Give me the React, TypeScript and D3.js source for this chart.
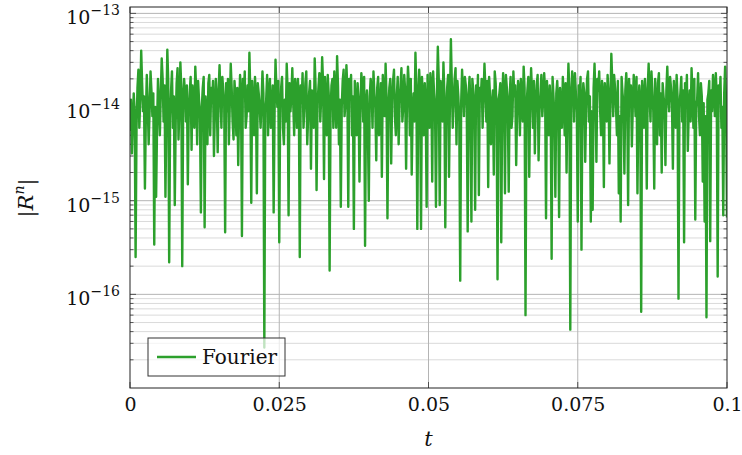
import React, { useEffect, useRef } from "react";
import { axisBottom, line, scaleLinear, scaleLog, select } from "d3";

// residual |R^n|, in units of 1e-15, evenly spaced in t on [0, 0.1]
const residualE15 = [
  5.5, 12, 3.2, 7, 14, 9, 0.25, 6, 16, 25, 6, 12, 40, 18, 9, 13, 1.35, 8, 22, 11,
  4, 9, 24, 15, 8, 14, 0.34, 10, 1.1, 6, 20, 11, 5, 14, 33, 20, 7, 17, 1.1, 9,
  41, 19, 0.22, 8, 15, 24, 6, 13, 0.9, 7, 18, 26, 4.5, 10, 30, 16, 0.2, 11, 20, 14,
  7, 17, 1.5, 9, 14, 21, 3.5, 17, 10, 6, 27, 15, 4, 19, 12, 8, 0.75, 10, 16, 21,
  0.52, 13, 8, 4, 18, 22, 5, 16, 11, 19, 3, 9, 20, 12, 3.3, 15, 28, 13, 6, 21,
  15, 11, 0.46, 18, 9, 20, 4, 11, 29, 16, 7, 4.5, 19, 13, 5, 16, 2.4, 10, 22, 13,
  0.42, 20, 13, 24, 6, 8, 17, 9, 38, 14, 0.95, 19, 10, 5, 21, 12, 1.2, 18, 14, 10,
  6, 11, 24, 14, 0.027, 9, 12, 22, 5, 14, 20, 6, 8, 17, 0.75, 9, 32, 15, 10, 19,
  0.36, 10, 16, 21, 6, 4, 12, 7, 29, 15, 0.7, 18, 9, 13, 26, 11, 5, 20, 15, 6,
  20, 12, 0.25, 17, 11, 23, 6, 10, 18, 24, 4, 8, 14, 19, 2.2, 15, 9, 6, 33, 16,
  1.3, 11, 16, 23, 7, 13, 34, 18, 1.7, 21, 12, 5, 22, 14, 0.18, 9, 17, 20, 6, 24,
  13, 6, 35, 17, 4, 12, 0.86, 10, 19, 25, 8, 11, 28, 16, 0.86, 20, 14, 22, 5, 13,
  0.5, 19, 10, 5, 18, 12, 1.6, 9, 23, 17, 7, 21, 0.33, 11, 15, 6, 1.0, 13, 20, 15,
  6, 24, 14, 10, 2.7, 16, 21, 5, 9, 18, 1.8, 22, 12, 8, 29, 13, 0.65, 9, 16, 20,
  2.5, 12, 19, 25, 8, 5, 13, 21, 4, 11, 17, 26, 7, 10, 22, 15, 2.2, 13, 27, 17,
  5, 20, 1.9, 9, 14, 7, 38, 16, 0.5, 12, 25, 15, 0.5, 21, 12, 5, 18, 11, 0.86, 22,
  9, 6, 23, 17, 1.6, 24, 14, 10, 0.86, 13, 44, 20, 0.9, 19, 11, 7, 30, 14, 0.52, 9,
  16, 22, 1.8, 12, 53, 18, 6, 11, 20, 26, 4, 19, 13, 7, 0.14, 11, 25, 14, 8, 21,
  17, 10, 0.47, 14, 21, 9, 0.6, 20, 15, 11, 0.8, 17, 9, 22, 1.15, 16, 12, 20, 6, 13,
  29, 16, 7, 19, 1.4, 21, 13, 4, 10, 15, 1.9, 24, 18, 9, 0.145, 12, 14, 18, 0.36, 11,
  23, 14, 1.2, 22, 16, 10, 1.25, 13, 21, 6, 8, 24, 13, 17, 2.4, 9, 19, 15, 5, 20,
  12, 7, 27, 16, 0.06, 10, 15, 21, 1.8, 12, 26, 14, 6, 19, 3.2, 11, 17, 22, 2.7, 9,
  14, 22, 8, 12, 23, 15, 0.65, 19, 11, 5, 17, 10, 0.24, 21, 13, 8, 1.1, 14, 19, 11,
  0.67, 16, 9, 6, 21, 13, 5, 18, 2.0, 11, 29, 15, 0.042, 12, 24, 17, 7, 23, 14, 9,
  0.6, 17, 12, 21, 0.3, 11, 18, 14, 2.6, 10, 20, 24, 7, 13, 0.6, 9, 0.8, 16, 29, 12,
  2.6, 20, 15, 24, 9, 5, 19, 13, 1.4, 18, 12, 7, 22, 14, 2.5, 11, 37, 19, 8, 22,
  16, 10, 5, 19, 1.2, 8, 0.6, 21, 14, 11, 1.95, 15, 23, 13, 0.9, 20, 11, 17, 3.8, 10,
  22, 14, 8, 21, 1.2, 10, 17, 12, 0.065, 19, 13, 6, 20, 11, 1.35, 16, 29, 13, 7, 24,
  15, 9, 1.35, 20, 10, 4, 18, 23, 5, 14, 2.0, 18, 13, 10, 2.4, 15, 27, 12, 9, 21,
  16, 11, 2.2, 19, 12, 6, 22, 13, 0.09, 10, 14, 21, 7, 15, 0.36, 18, 11, 22, 3.4, 9,
  15, 7, 26, 14, 6, 20, 0.63, 10, 12, 23, 8, 5, 18, 13, 1.6, 11, 0.6, 8, 0.057, 12,
  14, 19, 0.37, 15, 9, 22, 16, 8, 23, 13, 0.155, 17, 11, 21, 6, 10, 0.7, 14, 27, 11,
  0.66,
];

const tMax = 0.1;
const xTicks = [0, 0.025, 0.05, 0.075, 0.1];
const xTickLabels = ["0", "0.025", "0.05", "0.075", "0.1"];
const yDecades = [-17, -16, -15, -14, -13];
const yTickExponents = ["−16", "−15", "−14", "−13"];
const seriesName = "Fourier";

export default function App() {
  const ref = useRef<SVGSVGElement>(null);

  const width = 742;
  const height = 455;
  const margin = { top: 7, right: 15, bottom: 67, left: 130 };
  const font = "'DejaVu Serif', 'Liberation Serif', 'Noto Serif', serif";

  useEffect(() => {
    const svg = select(ref.current);
    svg.selectAll("*").remove();

    const x = scaleLinear()
      .domain([0, tMax])
      .range([margin.left, width - margin.right]);
    const y = scaleLog()
      .domain([1e-17, 1.17e-13])
      .range([height - margin.bottom, margin.top]);

    const [x0, x1] = x.range();
    const [y0, y1] = y.range(); // y0 bottom, y1 top

    const data = residualE15.map((v, i) => ({
      t: (i * tMax) / (residualE15.length - 1),
      r: v * 1e-15,
    }));

    // minor + major log grid
    const minors: number[] = [];
    yDecades.forEach((d) => {
      for (let k = 2; k <= 9; k++) {
        const v = k * Math.pow(10, d);
        if (v < y.domain()[1]) minors.push(v);
      }
    });
    const majors = yDecades.map((d) => Math.pow(10, d)).filter((v) => v > 1e-17);

    const grid = svg.append("g");
    grid
      .selectAll(".minor")
      .data(minors)
      .join("line")
      .attr("x1", x0)
      .attr("x2", x1)
      .attr("y1", (d) => y(d))
      .attr("y2", (d) => y(d))
      .attr("stroke", "#dadada")
      .attr("stroke-width", 1);
    grid
      .selectAll(".major")
      .data(majors)
      .join("line")
      .attr("x1", x0)
      .attr("x2", x1)
      .attr("y1", (d) => y(d))
      .attr("y2", (d) => y(d))
      .attr("stroke", "#b4b4b4")
      .attr("stroke-width", 1);
    grid
      .selectAll(".vx")
      .data(xTicks.slice(1, -1))
      .join("line")
      .attr("x1", (d) => x(d))
      .attr("x2", (d) => x(d))
      .attr("y1", y0)
      .attr("y2", y1)
      .attr("stroke", "#b4b4b4")
      .attr("stroke-width", 1);

    // ticks pointing inward on all sides
    const ticks = svg.append("g").attr("stroke", "#333").attr("stroke-width", 0.8);
    minors.forEach((v) => {
      ticks.append("line").attr("x1", x0).attr("x2", x0 + 3.5).attr("y1", y(v)).attr("y2", y(v));
      ticks.append("line").attr("x1", x1).attr("x2", x1 - 3.5).attr("y1", y(v)).attr("y2", y(v));
    });
    majors.forEach((v) => {
      ticks.append("line").attr("x1", x0).attr("x2", x0 + 6).attr("y1", y(v)).attr("y2", y(v));
      ticks.append("line").attr("x1", x1).attr("x2", x1 - 6).attr("y1", y(v)).attr("y2", y(v));
    });
    xTicks.forEach((t) => {
      ticks.append("line").attr("x1", x(t)).attr("x2", x(t)).attr("y1", y0).attr("y2", y0 - 6);
      ticks.append("line").attr("x1", x(t)).attr("x2", x(t)).attr("y1", y1).attr("y2", y1 + 6);
    });

    // the series
    svg
      .append("clipPath")
      .attr("id", "plot-clip")
      .append("rect")
      .attr("x", x0)
      .attr("y", y1)
      .attr("width", x1 - x0)
      .attr("height", y0 - y1);

    const path = line<{ t: number; r: number }>()
      .x((d) => x(d.t))
      .y((d) => y(d.r));

    svg
      .append("path")
      .datum(data)
      .attr("clip-path", "url(#plot-clip)")
      .attr("fill", "none")
      .attr("stroke", "#2ca02c")
      .attr("stroke-width", 2.4)
      .attr("stroke-linejoin", "round")
      .attr("d", path);

    // frame
    svg
      .append("rect")
      .attr("x", x0)
      .attr("y", y1)
      .attr("width", x1 - x0)
      .attr("height", y0 - y1)
      .attr("fill", "none")
      .attr("stroke", "#222")
      .attr("stroke-width", 1);

    // x axis labels
    const xAxis = (g) =>
      g
        .attr("transform", `translate(0,${y0})`)
        .call(
          axisBottom(x)
            .tickValues(xTicks)
            .tickSize(0)
            .tickPadding(10)
            .tickFormat((d, i) => xTickLabels[i])
        )
        .call((g) => g.select(".domain").remove())
        .call((g) =>
          g.selectAll("text").attr("font-family", font).attr("font-size", 19).attr("fill", "#111")
        );
    svg.append("g").call(xAxis);

    // y axis labels, 10^k
    const yl = svg.append("g").attr("font-family", font).attr("fill", "#111");
    majors.forEach((v, i) => {
      const txt = yl
        .append("text")
        .attr("x", x0 - 10)
        .attr("y", y(v) + 11)
        .attr("text-anchor", "end")
        .attr("font-size", 19);
      txt.append("tspan").text("10");
      txt.append("tspan").attr("dy", -9).attr("font-size", 14).text(yTickExponents[i]);
    });

    // axis titles
    svg
      .append("text")
      .attr("x", x(tMax / 2))
      .attr("y", 446)
      .attr("text-anchor", "middle")
      .attr("font-family", font)
      .attr("font-style", "italic")
      .attr("font-size", 21)
      .attr("fill", "#111")
      .text("t");

    const yt = svg
      .append("text")
      .attr("transform", "translate(33,198) rotate(-90)")
      .attr("text-anchor", "middle")
      .attr("font-family", font)
      .attr("font-size", 21)
      .attr("fill", "#111");
    yt.append("tspan").text("|");
    yt.append("tspan").attr("font-style", "italic").text("R");
    yt.append("tspan").attr("font-style", "italic").attr("font-size", 14).attr("dy", -9).text("n");
    yt.append("tspan").attr("dy", 9).text("|");

    // legend
    const lg = svg.append("g").attr("transform", "translate(148,338)");
    lg.append("rect")
      .attr("width", 137)
      .attr("height", 38)
      .attr("fill", "white")
      .attr("fill-opacity", 0.7)
      .attr("stroke", "#333")
      .attr("stroke-width", 1);
    lg.append("line")
      .attr("x1", 9)
      .attr("x2", 48)
      .attr("y1", 19)
      .attr("y2", 19)
      .attr("stroke", "#2ca02c")
      .attr("stroke-width", 2.4);
    lg.append("text")
      .attr("x", 54)
      .attr("y", 26)
      .attr("font-family", font)
      .attr("font-size", 20)
      .attr("fill", "#111")
      .text(seriesName);
  }, []);

  return (
    <svg
      ref={ref}
      width={width}
      height={height}
      style={{ position: "absolute", left: 0, top: 0, background: "white" }}
    ></svg>
  );
}
